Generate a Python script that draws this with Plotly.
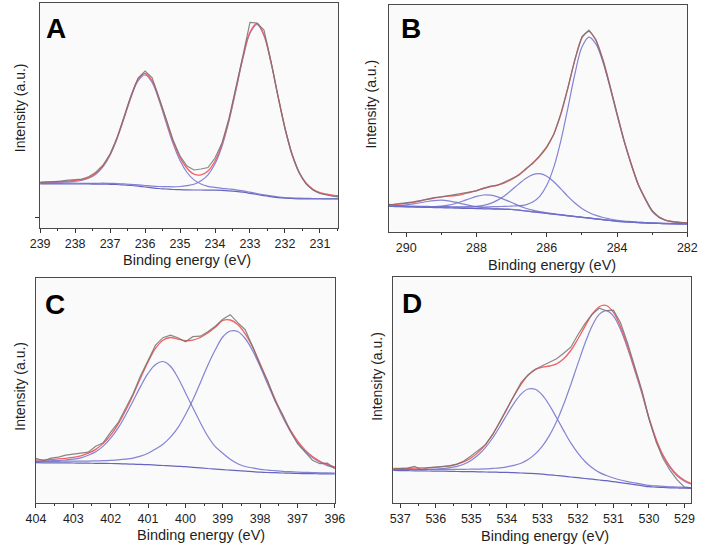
import plotly.graph_objects as go

W, H = 709, 547

# ---------------- Panel A ----------------
A_energy = [239.0, 238.8, 238.6, 238.4, 238.2, 238.0, 237.8, 237.6, 237.4, 237.2, 237.0, 236.8, 236.6, 236.4,
            236.2, 236.0, 235.8, 235.6, 235.4, 235.2, 235.0, 234.8, 234.6, 234.4, 234.2, 234.0, 233.8, 233.6,
            233.4, 233.2, 233.0, 232.8, 232.6, 232.4, 232.2, 232.0, 231.8, 231.6, 231.4, 231.2, 231.0, 230.8,
            230.6, 230.4]
A_raw = [45.5, 45.8, 46.0, 46.8, 47.8, 48.5, 49.0, 51.5, 56.0, 63.0, 74.0, 90.0, 111.0, 132.5, 150.0, 157.0,
         150.5, 131.0, 109.5, 88.0, 72.0, 62.0, 58.0, 59.0, 60.5, 70.0, 85.0, 109.5, 140.0, 172.5, 205.5, 205.0,
         198.0, 167.0, 132.0, 99.5, 73.5, 55.5, 44.5, 38.0, 34.5, 33.0, 31.5, 31.0]
A_fit = [45.8, 46.0, 46.3, 46.5, 46.9, 47.6, 48.5, 50.7, 54.8, 62.2, 73.7, 90.4, 110.7, 132.0, 148.5, 154.5,
         147.3, 129.8, 108.0, 87.1, 70.6, 59.8, 53.9, 53.2, 57.0, 67.0, 83.9, 108.7, 139.4, 171.1, 195.8, 204.5,
         193.2, 166.1, 132.3, 100.2, 74.3, 56.2, 45.0, 38.7, 35.3, 33.8, 32.6, 31.8]
A_background = [44.0, 44.0, 44.0, 44.0, 44.0, 44.0, 44.0, 44.0, 43.9, 43.9, 43.7, 43.5, 43.0, 42.5, 41.8, 41.0,
                40.2, 39.5, 39.0, 38.5, 38.3, 38.1, 38.0, 38.0, 37.9, 37.8, 37.6, 37.2, 36.6, 35.8, 34.7, 33.5,
                32.3, 31.3, 30.4, 29.8, 29.5, 29.2, 29.1, 29.0, 29.0, 29.0, 29.0, 29.0]
A_peak_236 = [45.1, 45.3, 45.6, 45.8, 46.1, 46.8, 47.8, 50.0, 54.0, 61.3, 72.8, 89.4, 109.6, 130.8, 147.2, 153.0,
              145.6, 127.8, 105.6, 84.4, 67.4, 55.5, 48.1, 44.0, 41.7, 40.6, 39.7, 39.0, 38.2, 37.1, 35.8, 34.5,
              33.2, 32.1, 31.2, 30.5, 30.1, 29.8, 29.6, 29.5, 29.5, 29.4, 29.4, 29.4]
A_peak_233 = [44.7, 44.7, 44.7, 44.7, 44.8, 44.8, 44.7, 44.7, 44.7, 44.8, 44.6, 44.5, 44.1, 43.7, 43.1, 42.5,
              41.9, 41.5, 41.4, 41.2, 41.5, 42.4, 43.8, 47.2, 53.2, 64.2, 81.8, 106.9, 137.8, 169.8, 194.7, 203.5,
              192.3, 165.3, 131.6, 99.5, 73.7, 55.6, 44.4, 38.2, 34.8, 33.3, 32.2, 31.4]

# ---------------- Panel B ----------------
B_energy = [290.6, 290.4, 290.2, 290.0, 289.8, 289.6, 289.4, 289.2, 289.0, 288.8, 288.6, 288.4, 288.2, 288.0,
            287.8, 287.6, 287.4, 287.2, 287.0, 286.8, 286.6, 286.4, 286.2, 286.0, 285.8, 285.6, 285.4, 285.2,
            285.0, 284.8, 284.6, 284.4, 284.2, 284.0, 283.8, 283.6, 283.4, 283.2, 283.0, 282.8, 282.6, 282.4,
            282.2, 282.0]
B_raw = [27.2, 27.0, 27.8, 28.4, 29.6, 30.8, 32.4, 33.9, 34.6, 35.8, 36.5, 37.6, 39.3, 40.6, 43.4, 45.3, 46.2,
         49.3, 52.6, 56.2, 62.9, 68.0, 75.8, 84.9, 97.0, 117.8, 143.9, 172.3, 194.8, 201.3, 191.8, 171.0, 145.1,
         117.0, 90.6, 67.4, 47.2, 32.6, 20.5, 14.1, 11.0, 9.6, 9.0, 8.4]
B_fit = [26.7, 26.9, 27.3, 28.05, 29.1, 30.5, 32.1, 33.5, 34.65, 35.3, 36.0, 37.2, 39.0, 40.95, 43.0, 44.8, 46.5,
         48.7, 52.1, 56.6, 62.1, 68.45, 75.3, 84.1, 97.4, 117.2, 143.2, 171.4, 193.6, 200.2, 191.0, 171.7, 145.7,
         117.6, 91.0, 68.0, 47.6, 33.1, 20.8, 14.5, 11.25, 9.9, 9.2, 8.65]
B_background = [25.2, 25.0, 24.8, 24.7, 24.5, 24.3, 24.1, 23.9, 23.8, 23.6, 23.4, 23.2, 23.1, 22.9, 22.7, 22.5,
                22.4, 22.2, 22.0, 21.3, 20.5, 19.7, 18.9, 18.1, 17.3, 16.5, 15.7, 14.9, 14.1, 13.4, 12.6, 11.8,
                11.0, 10.2, 9.7, 9.3, 8.9, 8.5, 8.2, 8.0, 7.8, 7.7, 7.6, 7.5]
B_peak_284_8 = [25.9, 25.75, 25.6, 25.55, 25.4, 25.25, 25.1, 24.95, 24.9, 24.8, 24.7, 24.65, 24.7, 24.6, 24.5,
                24.7, 24.9, 25.1, 25.4, 25.8, 26.7, 29.5, 35.2, 46.2, 64.4, 90.7, 123.4, 157.5, 184.4, 194.4,
                187.3, 169.3, 144.0, 116.4, 90.1, 67.2, 46.9, 32.5, 20.2, 14.0, 10.8, 9.5, 8.8, 8.3]
B_peak_286_2 = [25.45, 25.3, 25.1, 25.0, 24.85, 24.7, 24.6, 24.4, 24.4, 24.3, 24.2, 24.25, 24.6, 25.1, 26.2,
                28.1, 31.4, 35.8, 41.5, 47.4, 53.0, 56.9, 57.9, 55.3, 49.8, 42.6, 35.2, 28.5, 23.1, 19.0, 16.1,
                14.0, 12.5, 11.25, 10.5, 10.0, 9.5, 9.0, 8.7, 8.4, 8.2, 8.0, 7.9, 7.8]
B_peak_287_7 = [25.35, 25.2, 25.0, 24.95, 24.8, 24.7, 24.7, 24.9, 25.45, 26.4, 28.0, 30.2, 32.8, 35.1, 36.5,
                36.3, 34.6, 31.9, 29.0, 25.9, 23.3, 21.35, 19.9, 18.7, 17.7, 16.8, 15.95, 15.1, 14.3, 13.55,
                12.75, 11.9, 11.1, 10.3, 9.8, 9.4, 9.0, 8.6, 8.3, 8.1, 7.9, 7.8, 7.7, 7.55]
B_peak_289_0 = [25.6, 25.7, 25.95, 26.65, 27.6, 28.75, 30.0, 30.95, 31.3, 30.65, 29.3, 27.65, 26.2, 24.85, 23.85,
                23.2, 22.8, 22.45, 22.2, 21.45, 20.6, 19.8, 19.0, 18.2, 17.4, 16.6, 15.8, 15.0, 14.2, 13.5, 12.65,
                11.85, 11.05, 10.25, 9.75, 9.35, 8.95, 8.55, 8.25, 8.05, 7.85, 7.75, 7.65, 7.55]

# ---------------- Panel C ----------------
C_energy = [404.0, 403.8, 403.6, 403.4, 403.2, 403.0, 402.8, 402.6, 402.4, 402.2, 402.0, 401.8, 401.6, 401.4,
            401.2, 401.0, 400.8, 400.6, 400.4, 400.2, 400.0, 399.8, 399.6, 399.4, 399.2, 399.0, 398.8, 398.6,
            398.4, 398.2, 398.0, 397.8, 397.6, 397.4, 397.2, 397.0, 396.8, 396.6, 396.4, 396.2, 396.0]
C_raw = [44.5, 42.0, 44.5, 45.5, 47.5, 48.5, 50.0, 50.5, 56.5, 60.0, 70.5, 80.0, 94.5, 109.0, 127.0, 142.0,
         157.5, 165.0, 167.5, 165.0, 161.0, 166.0, 166.5, 171.0, 176.5, 183.5, 188.0, 180.0, 173.0, 156.0, 137.5,
         122.0, 102.0, 88.5, 72.0, 59.0, 51.0, 42.5, 39.0, 39.5, 34.0]
C_fit = [42.8, 42.9, 43.3, 43.75, 44.4, 45.3, 46.85, 49.5, 53.3, 59.3, 67.65, 78.6, 92.2, 107.8, 124.6, 140.8,
         154.4, 162.5, 165.2, 163.6, 162.0, 162.6, 165.2, 169.8, 175.4, 182.2, 182.7, 178.2, 168.9, 155.8, 139.0,
         121.1, 103.7, 87.4, 73.4, 61.8, 52.85, 46.2, 41.4, 38.05, 35.7]
C_background = [40.0, 39.9, 39.9, 39.8, 39.8, 39.7, 39.6, 39.5, 39.4, 39.3, 39.2, 39.0, 38.8, 38.5, 38.3, 38.0,
                37.6, 37.2, 36.8, 36.4, 36.0, 35.4, 34.8, 34.2, 33.6, 33.0, 32.5, 32.0, 31.5, 31.0, 30.5, 30.2,
                30.0, 29.7, 29.5, 29.2, 29.1, 29.0, 28.9, 28.8, 28.7]
C_peak_400_6 = [41.5, 41.6, 41.9, 42.2, 42.7, 43.5, 44.9, 47.4, 50.9, 56.6, 64.5, 74.8, 87.5, 101.7, 116.3, 129.3,
                138.3, 141.2, 136.5, 125.0, 110.0, 95.0, 80.0, 66.5, 56.0, 49.5, 43.5, 39.0, 36.2, 34.8, 33.4,
                32.6, 32.0, 31.4, 31.0, 30.6, 30.35, 30.1, 29.9, 29.75, 29.6]
C_peak_398_7 = [41.26, 41.23, 41.33, 41.35, 41.5, 41.5, 41.55, 41.6, 41.8, 42.0, 42.35, 42.8, 43.5, 44.6, 46.6,
                49.5, 53.7, 58.5, 65.5, 75.0, 88.0, 103.0, 120.0, 137.5, 153.0, 165.7, 171.7, 171.2, 164.2, 152.0,
                136.1, 118.7, 101.7, 85.7, 71.9, 60.4, 51.6, 45.1, 40.4, 37.1, 34.8]

# ---------------- Panel D ----------------
D_energy = [537.2, 537.0, 536.8, 536.6, 536.4, 536.2, 536.0, 535.8, 535.6, 535.4, 535.2, 535.0, 534.8, 534.6,
            534.4, 534.2, 534.0, 533.8, 533.6, 533.4, 533.2, 533.0, 532.8, 532.6, 532.4, 532.2, 532.0, 531.8,
            531.6, 531.4, 531.2, 531.0, 530.8, 530.6, 530.4, 530.2, 530.0, 529.8, 529.6, 529.4, 529.2, 529.0,
            528.8]
D_raw = [33.5, 34.0, 34.6, 36.2, 33.0, 35.2, 35.5, 35.8, 36.8, 38.6, 42.0, 47.0, 52.5, 58.0, 68.0, 81.0, 94.5,
         107.5, 120.0, 128.0, 133.5, 137.0, 140.5, 144.0, 149.5, 155.5, 168.0, 179.0, 188.5, 194.5, 192.0, 192.5,
         180.0, 159.5, 136.0, 112.5, 84.0, 61.0, 44.0, 32.0, 22.5, 15.5, 14.8]
D_fit = [34.2, 34.3, 34.4, 34.5, 34.7, 35.0, 35.3, 36.0, 37.0, 38.5, 41.05, 45.0, 50.6, 58.4, 68.4, 80.4, 93.6,
         106.7, 118.4, 127.4, 133.1, 135.5, 136.7, 138.9, 144.0, 152.2, 163.7, 176.4, 188.3, 195.95, 197.2, 190.3,
         176.0, 156.3, 133.9, 110.9, 85.3, 63.8, 47.3, 35.9, 27.6, 22.3, 19.2]
D_background = [32.2, 32.1, 32.0, 31.9, 31.8, 31.7, 31.6, 31.5, 31.4, 31.2, 31.1, 31.0, 30.9, 30.7, 30.6, 30.4,
                30.3, 30.0, 29.7, 29.4, 29.1, 28.6, 27.9, 27.2, 26.5, 25.7, 25.0, 24.2, 23.5, 22.7, 22.0, 21.0,
                20.0, 19.0, 18.0, 17.0, 16.0, 15.6, 15.2, 14.9, 14.7, 14.5, 14.4]
D_peak_533_3 = [33.2, 33.15, 33.2, 33.2, 33.3, 33.5, 33.7, 34.2, 35.1, 36.4, 38.75, 42.5, 47.9, 55.3, 64.7, 76.0,
                88.0, 99.4, 108.6, 113.7, 113.4, 107.5, 97.3, 84.9, 72.1, 59.8, 49.6, 41.2, 35.0, 30.35, 27.2,
                24.7, 22.7, 21.1, 19.8, 18.5, 17.3, 16.8, 16.3, 15.9, 15.6, 15.3, 15.2]
D_peak_531_2 = [33.2, 33.2, 33.2, 33.2, 33.2, 33.2, 33.2, 33.3, 33.3, 33.3, 33.4, 33.5, 33.6, 33.8, 34.3, 34.8,
                35.9, 37.3, 39.5, 43.1, 48.8, 56.6, 67.3, 81.2, 98.4, 118.1, 139.1, 159.4, 176.8, 188.3, 192.0,
                186.6, 173.3, 154.2, 132.1, 109.4, 84.0, 62.6, 46.2, 34.9, 26.7, 21.5, 18.4]

X_TITLE = "Binding energy (eV)"
Y_TITLE = "Intensity (a.u.)"

RAW_COLOR = "rgba(115,115,115,0.85)"
FIT_COLOR = "#f45f62"
PEAK_COLOR = "rgba(110,110,205,0.85)"
BG_COLOR = "rgba(85,85,185,0.9)"
FONT = "Liberation Sans, Arial, sans-serif"


def px_x(v):
    return v / W


def px_y(v):
    return 1 - v / H


panels = [
    dict(letter="A", energy=A_energy, raw=A_raw, fit=A_fit, bg=A_background, peaks=[A_peak_236, A_peak_233],
         box=(31, 338, 3, 228), xr=[239, 230.47], yr=[0, 225], dtick=1, minor=0.5, ytick=[10.3],
         letter_pos=(47, 28), xt_pos=(182.5, 260), yt_pos=(10, 107.5)),
    dict(letter="B", energy=B_energy, raw=B_raw, fit=B_fit, bg=B_background,
         peaks=[B_peak_284_8, B_peak_286_2, B_peak_287_7, B_peak_289_0],
         box=(390, 697, 5, 231.5), xr=[290.49, 282], yr=[0, 226.5], dtick=2, minor=1, ytick=[],
         letter_pos=(412.5, 29), xt_pos=(557.5, 265), yt_pos=(371, 104)),
    dict(letter="C", energy=C_energy, raw=C_raw, fit=C_fit, bg=C_background, peaks=[C_peak_400_6, C_peak_398_7],
         box=(26.7, 334.3, 278, 502.7), xr=[404, 396], yr=[0, 224.7], dtick=1, minor=0.5, ytick=[],
         letter_pos=(46.5, 304), xt_pos=(196.7, 535), yt_pos=(10, 386)),
    dict(letter="D", energy=D_energy, raw=D_raw, fit=D_fit, bg=D_background, peaks=[D_peak_533_3, D_peak_531_2],
         box=(394.3, 701, 277.3, 502.7), xr=[537.2, 528.81], yr=[0, 225.4], dtick=1, minor=0.5, ytick=[],
         letter_pos=(414, 303), xt_pos=(551, 535.7), yt_pos=(377, 376.5)),
]

fig = go.Figure()
layout = dict(width=W, height=H, margin=dict(l=0, r=0, t=0, b=0), paper_bgcolor="white",
              plot_bgcolor="#fafafa", showlegend=False, font=dict(family=FONT, color="#1e1e1e"))
annotations = []

for i, p in enumerate(panels):
    n = "" if i == 0 else str(i + 1)
    xa, ya = "x" + n, "y" + n
    x0, x1, y0, y1 = p["box"]
    fig.add_trace(go.Scatter(x=p["energy"], y=p["bg"], mode="lines", xaxis=xa, yaxis=ya,
                             line=dict(color=BG_COLOR, width=1.2, shape="spline"), hoverinfo="skip"))
    for pk in p["peaks"]:
        fig.add_trace(go.Scatter(x=p["energy"], y=pk, mode="lines", xaxis=xa, yaxis=ya,
                                 line=dict(color=PEAK_COLOR, width=1.2, shape="spline"), hoverinfo="skip"))
    fig.add_trace(go.Scatter(x=p["energy"], y=p["fit"], mode="lines", xaxis=xa, yaxis=ya,
                             line=dict(color=FIT_COLOR, width=1.3, shape="spline"), hoverinfo="skip"))
    fig.add_trace(go.Scatter(x=p["energy"], y=p["raw"], mode="lines", xaxis=xa, yaxis=ya,
                             line=dict(color=RAW_COLOR, width=1.2), hoverinfo="skip"))

    layout["xaxis" + n] = dict(domain=[px_x(x0), px_x(x1)], range=p["xr"], anchor=ya, showgrid=False,
                               zeroline=False, showline=True, linecolor="#4a4a4a", linewidth=1, mirror=True,
                               ticks="outside", ticklen=4, tickcolor="#333", dtick=p["dtick"], tick0=0,
                               tickfont=dict(size=12.5, family=FONT, color="#1e1e1e"),
                               minor=dict(ticks="outside", ticklen=2, dtick=p["minor"], tick0=0,
                                          tickcolor="#333", showgrid=False))
    layout["yaxis" + n] = dict(domain=[px_y(y1), px_y(y0)], range=p["yr"], anchor=xa, showgrid=False,
                               zeroline=False, showline=True, linecolor="#4a4a4a", linewidth=1, mirror=True,
                               ticks="outside" if p["ytick"] else "", ticklen=4, tickcolor="#333",
                               tickvals=p["ytick"], ticktext=["" for _ in p["ytick"]], showticklabels=False)
    lx, ly = p["letter_pos"]
    annotations.append(dict(text="<b>%s</b>" % p["letter"], x=px_x(lx), y=px_y(ly), xref="paper", yref="paper",
                            xanchor="center", yanchor="middle", showarrow=False,
                            font=dict(size=28, family=FONT, color="black")))
    tx, ty = p["xt_pos"]
    annotations.append(dict(text=X_TITLE, x=px_x(tx), y=px_y(ty), xref="paper", yref="paper",
                            xanchor="center", yanchor="middle", showarrow=False,
                            font=dict(size=14.5, family=FONT, color="#1e1e1e")))
    yx, yy = p["yt_pos"]
    annotations.append(dict(text=Y_TITLE, x=px_x(yx), y=px_y(yy), xref="paper", yref="paper",
                            xanchor="center", yanchor="middle", textangle=-90, showarrow=False,
                            font=dict(size=14, family=FONT, color="#1e1e1e")))

layout["annotations"] = annotations
fig.update_layout(**layout)
fig.write_html("out.html", config={"displayModeBar": False},
               post_script="document.body.style.margin='0px';")
